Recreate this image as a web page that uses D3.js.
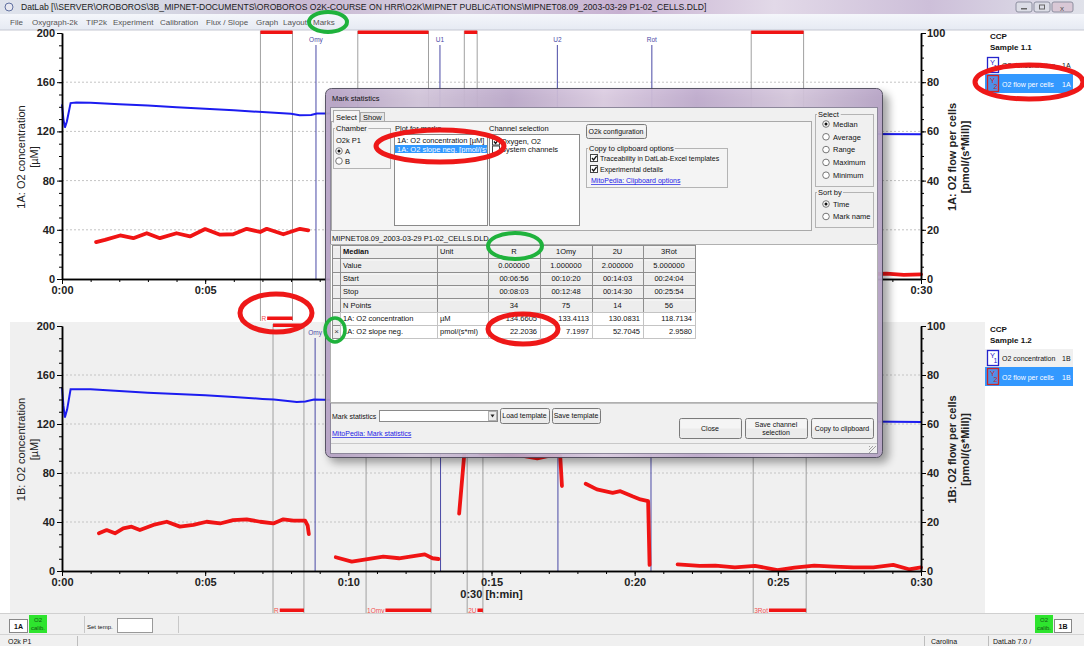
<!DOCTYPE html>
<html>
<head>
<meta charset="utf-8">
<style>
  body { margin: 0; background: #fff; }
  svg { display: block; }
  svg text { font-family: "Liberation Sans", Arial, sans-serif; }
</style>
</head>
<body>
<div id="graphic"></div>
<script src="https://d3js.org/d3.v7.min.js" charset="utf-8"></script>
<script>
// ---- values ----
var timeTicks = [0, 5, 10, 15, 20, 25, 30];      // h:min, in minutes
var concTicks = [0, 40, 80, 120, 160, 200];      // left axis, µM
var fluxTicks = [0, 20, 40, 60, 80, 100];        // right axis, pmol/(s*Mill)
var gridConc = [40, 80, 120, 160];

// chamber A: O2 concentration [min, µM]
var concA = [[0,142],[0.05,130],[0.1,123],[0.17,128],[0.3,143],[0.5,143.5],[1,143.2],[2,142],[3,141],
  [4,139.7],[5,138.5],[6,137.2],[7,135.7],[8,134.4],[8.3,133.2],[8.7,133.3],[8.9,134.6],[9.5,134.6],
  [10.5,134],[12,133.2],[13.2,132.6],[14,130.5],[15,129],[16,127.5],[17.3,125.5],[18,124.2],[19,122.8],
  [20.6,121],[22,120.2],[24,119],[25,118.6],[26,118.3],[28,117.9],[30,117.6]];
// chamber A: O2 flow per cells [min, pmol/(s*Mill)], one array per segment
var fluxA = [
  [[1.19,15.0],[1.5,15.9],[2.03,17.7],[2.49,16.6],[2.96,18.6],[3.42,16.6],[4.0,18.6],[4.47,17.3],[5.0,20.3],
   [5.52,18.0],[5.98,18.2],[6.45,20.4],[6.92,19.1],[7.15,20.4],[7.73,18.2],[8.31,20.4],[8.6,19.8]],
  [[9.6,7.5],[10.2,6.0],[10.8,6.8],[11.4,6.2],[12,6.9],[12.6,6.4],[13.1,6.1]],
  [[13.9,24],[14.05,45],[14.2,49],[14.5,47.5],[15.5,47],[16.5,46.5],[17.4,46],[17.45,36]],
  [[18.3,36],[19,33.5],[19.5,32.5],[20.2,30],[20.5,29.5],[20.55,3]],
  [[21.5,3.2],[22.3,2.6],[23,2.9],[24,2.3],[25,2.7],[26,2.2],[27,2.5],[28.2,2.0],[28.8,2.2],[29.4,1.7],[30,1.9]]
];
// chamber B
var concB = [[0,150],[0.05,135],[0.1,125.3],[0.18,132],[0.3,148.4],[1,148.3],[2,147],[3,145.5],[4,144.5],
  [5,143.5],[6,142],[7,140.5],[7.4,140],[8.2,138],[8.5,138.3],[8.8,140],[9.5,139.5],[10.5,139],[12,138],
  [13.2,137.5],[14,135],[15,133.5],[17.3,130],[19,128],[20.6,126],[22,125],[24,123.5],[26,122.6],[28,122],[30,121.6]];
var fluxB = [
  [[1.29,15.4],[1.56,16.7],[1.85,15.4],[2.14,17.4],[2.43,18.1],[2.72,16.7],[3.19,18.8],[3.66,20.1],[4.12,18.1],
   [4.59,18.8],[5.05,20.1],[5.52,19.4],[5.98,20.8],[6.45,21.1],[6.92,20.1],[7.38,19.4],[7.73,21.1],[8.08,20.6],
   [8.49,20.6],[8.58,18.5],[8.62,15.1]],
  [[9.56,5.6],[10.12,3.8],[10.67,4.8],[11.22,5.9],[11.77,5.2],[12.33,6.2],[12.67,6.8],[12.94,5.2],[13.15,4.9]],
  [[13.87,23.4],[14.05,47.7],[14.15,55],[14.3,52],[14.6,48],[15.2,47.5],[16,47.2],[16.6,46],[17,47],[17.4,47],[17.46,34.7]],
  [[18.29,35.6],[18.68,33.3],[19.23,31.9],[19.5,32.6],[19.92,30.5],[20.2,29.2],[20.47,28.5],[20.52,2.5]],
  [[21.5,2.7],[22.27,2.1],[22.82,2.2],[23.5,1.5],[24.2,2.1],[24.99,0.4],[25.58,1.4],[26.27,2.2],[26.96,1.8],
   [27.65,1.5],[28.34,1.5],[29.03,2.5],[29.58,0.7],[30,1.5]]
];
// marks [name, start, stop] and events [name, time] in minutes
var marksA = [["R",6.93,8.05],["1Omy",10.33,12.8],["2U",14.05,14.5],["3Rot",24.07,25.9]];
var marksB = [["R",7.37,8.45],["1Omy",10.62,12.89],["2U",14.15,14.7],["3Rot",24.14,25.99]];
var eventsA = [["Omy",8.87],["U1",13.2],["U2",17.3],["Rot",20.6]];
var eventsB = [["Omy",8.84],["U1",13.22],["U2",17.32],["Rot",20.57]];

// mark statistics table
var tableCols = ["R", "1Omy", "2U", "3Rot"];
var markValue = ["0.000000", "1.000000", "2.000000", "5.000000"];
var markStart = ["00:06:56", "00:10:20", "00:14:03", "00:24:04"];
var markStop = ["00:08:03", "00:12:48", "00:14:30", "00:25:54"];
var markN = [34, 75, 14, 56];
var concMedian = [134.6605, 133.4113, 130.0831, 118.7134];
var slopeMedian = [22.2036, 7.1997, 52.7045, 2.9580];

var menuItems = [["File",10],["Oxygraph-2k",32],["TIP2k",86],["Experiment",113],["Calibration",160],
  ["Flux / Slope",206],["Graph",256],["Layout",283],["Marks",313]];

// ---- svg ----
var W = 1084, H = 646;
var svg = d3.select("#graphic").append("svg").attr("width", W).attr("height", H);
var defs = svg.append("defs");

function grad(id, stops, vertical) {
  var lg = defs.append("linearGradient").attr("id", id)
    .attr("x1", 0).attr("y1", 0).attr("x2", vertical ? 0 : 1).attr("y2", vertical ? 1 : 0);
  stops.forEach(function (s, i) {
    lg.append("stop").attr("offset", (i / (stops.length - 1) * 100) + "%").attr("stop-color", s);
  });
}
grad("titleGrad", ["#dfe3ec", "#d6d9e4", "#c9b9d3", "#d9d2e2", "#c7b1d1", "#e2d9e8", "#cdbfd9", "#e0e2ea"]);
grad("menuGrad", ["#f4f6fb", "#e6eaf3"], true);
grad("glassGrad", ["#b7a3c6", "#d5c8dd", "#bfaccd", "#decfe4", "#c2aed0", "#d8cadf", "#b9a6c8"]);
defs.append("filter").attr("id", "shadow").attr("x", "-10%").attr("y", "-10%").attr("width", "120%").attr("height", "120%")
  .append("feGaussianBlur").attr("stdDeviation", 4);

function txt(g, x, y, s, o) {
  o = o || {};
  return g.append("text").attr("x", x).attr("y", y).text(s)
    .attr("font-size", o.size || 7.5)
    .attr("font-weight", o.bold ? "bold" : null)
    .attr("fill", o.fill || "#111")
    .attr("text-anchor", o.anchor || "start")
    .attr("text-decoration", o.under ? "underline" : null);
}
function box(g, x, y, w, h, fill, stroke, sw) {
  return g.append("rect").attr("x", x).attr("y", y).attr("width", w).attr("height", h)
    .attr("fill", fill || "none").attr("stroke", stroke || "none").attr("stroke-width", sw || 1);
}
function button(g, x, y, w, h, lines) {
  box(g, x + 0.5, y + 0.5, w, h, "#ebebeb", "#7a7a7a").attr("rx", 2);
  box(g, x + 1.5, y + 1.5, w - 2, h / 2 - 1, "#f5f5f5");
  var n = lines.length;
  lines.forEach(function (s, i) {
    txt(g, x + w / 2, y + h / 2 + 2.5 + (i - (n - 1) / 2) * 8, s, { anchor: "middle", size: 7 });
  });
}
function checkbox(g, x, y, on) {
  box(g, x + 0.5, y + 0.5, 7, 7, "#fff", "#444");
  if (on) g.append("path").attr("d", "M" + (x + 2) + "," + (y + 4) + " l1.6,2 l3,-4.2")
    .attr("fill", "none").attr("stroke", "#111").attr("stroke-width", 1.3);
}
function radio(g, x, y, on) {
  g.append("circle").attr("cx", x).attr("cy", y).attr("r", 3.3).attr("fill", "#fff").attr("stroke", "#777");
  if (on) g.append("circle").attr("cx", x).attr("cy", y).attr("r", 1.5).attr("fill", "#111");
}
function groupbox(g, x, y, w, h, label) {
  box(g, x + 0.5, y + 0.5, w, h, "none", "#b4b4b4");
  var t = txt(g, x + 3, y + 3, label, { size: 7.5 });
  var bb = t.node().getBBox();
  g.insert("rect", function () { return t.node(); }).attr("x", bb.x - 1).attr("y", bb.y)
    .attr("width", bb.width + 2).attr("height", bb.height).attr("fill", "#f0f0f0");
}

// ---- window chrome ----
box(svg, 0, 0, W, 14, "url(#titleGrad)");
svg.append("circle").attr("cx", 9).attr("cy", 7).attr("r", 4).attr("fill", "#e8e8f0").attr("stroke", "#6070a0");
txt(svg, 21, 10, "DatLab [\\\\SERVER\\OROBOROS\\3B_MIPNET-DOCUMENTS\\OROBOROS O2K-COURSE ON HRR\\O2K\\MIPNET PUBLICATIONS\\MIPNET08.09_2003-03-29 P1-02_CELLS.DLD]", { size: 8.6, fill: "#1a1a1a" });
[[1016, 16], [1034, 16], [1052, 21]].forEach(function (b, i) {
  box(svg, b[0], 2, b[1], 10, i == 2 ? "#d9c8d6" : "#dcdde6", "#8d8fa0").attr("rx", 2);
});
box(svg, 1021, 8, 6, 1.5, "#666");
box(svg, 1039.5, 5, 5, 4, "none", "#666");
txt(svg, 1062, 10.5, "x", { size: 8, fill: "#555", anchor: "middle" });
box(svg, 0, 14, W, 16, "url(#menuGrad)");
svg.append("line").attr("x1", 0).attr("x2", W).attr("y1", 30).attr("y2", 30).attr("stroke", "#c5c8d2");
menuItems.forEach(function (m) { txt(svg, m[1], 24.5, m[0], { size: 8, fill: "#555" }); });

// ---- panels ----
box(svg, 10, 322, 975, 291, "#f0f0f0");
box(svg, 985, 322, 88, 291, "#fff");

var x = d3.scaleLinear().domain([0, 30]).range([62, 921]);
var fmtTime = function (d) { return "0:" + (d < 10 ? "0" + d : d); };
var panels = [];

function drawPanel(p) {
  var g = svg.append("g");
  panels.push(g);
  var yL = d3.scaleLinear().domain([0, 200]).range([p.y0, p.y200]);
  var yR = d3.scaleLinear().domain([0, 100]).range([p.y0, p.y200]);

  gridConc.forEach(function (v) {
    g.append("line").attr("x1", x(0)).attr("x2", x(30)).attr("y1", yL(v)).attr("y2", yL(v))
      .attr("stroke", "#c4c4c4").attr("stroke-dasharray", "2,2");
  });
  // mark borders
  p.marks.forEach(function (m) {
    [m[1], m[2]].forEach(function (t) {
      g.append("line").attr("x1", x(t)).attr("x2", x(t)).attr("y1", p.y200 - 2).attr("y2", p.barY + 3)
        .attr("stroke", "#a0a0a0");
    });
  });
  // events
  p.events.forEach(function (e) {
    g.append("line").attr("x1", x(e[1])).attr("x2", x(e[1])).attr("y1", p.y200 + 12).attr("y2", p.y0)
      .attr("stroke", "#4a4aa6");
    txt(g, x(e[1]), p.y200 + 9, e[0], { size: 6.5, fill: "#4a4aa6", anchor: "middle" });
  });

  var lineL = d3.line().x(function (d) { return x(d[0]); }).y(function (d) { return yL(d[1]); });
  var lineR = d3.line().x(function (d) { return x(d[0]); }).y(function (d) { return yR(d[1]); });
  g.append("path").attr("d", lineL(p.conc)).attr("fill", "none").attr("stroke", "#1c1cf0").attr("stroke-width", 2);
  p.flux.forEach(function (seg) {
    g.append("path").attr("d", lineR(seg)).attr("fill", "none").attr("stroke", "#f01414")
      .attr("stroke-width", 3.8).attr("stroke-linejoin", "round").attr("stroke-linecap", "round");
  });

  function styleAxis(a) {
    a.attr("font-size", 11).attr("font-weight", "bold").attr("font-family", "Liberation Sans, Arial, sans-serif");
    a.selectAll("text").attr("fill", "#222");
  }
  g.append("g").attr("transform", "translate(" + x(0) + ",0)")
    .call(d3.axisLeft(yL).tickValues(d3.range(0, 201, 10)).tickSize(3).tickSizeOuter(0).tickFormat(""));
  styleAxis(g.append("g").attr("transform", "translate(" + x(0) + ",0)")
    .call(d3.axisLeft(yL).tickValues(concTicks).tickSize(5).tickSizeOuter(0).tickPadding(2)));
  g.append("g").attr("transform", "translate(" + x(30) + ",0)")
    .call(d3.axisRight(yR).tickValues(d3.range(0, 101, 5)).tickSize(3).tickSizeOuter(0).tickFormat(""));
  styleAxis(g.append("g").attr("transform", "translate(" + x(30) + ",0)")
    .call(d3.axisRight(yR).tickValues(fluxTicks).tickSize(5).tickSizeOuter(0).tickPadding(1)));
  g.append("g").attr("transform", "translate(0," + p.y0 + ")")
    .call(d3.axisBottom(x).tickValues(d3.range(0, 31, 1)).tickSize(3).tickSizeOuter(0).tickFormat(""));
  styleAxis(g.append("g").attr("transform", "translate(0," + p.y0 + ")")
    .call(d3.axisBottom(x).tickValues(timeTicks).tickSize(5).tickSizeOuter(0).tickPadding(2).tickFormat(fmtTime)));
  g.selectAll(".domain").attr("stroke-width", 1.5);

  txt(g, x(15), p.y0 + 27, "0:30 [h:min]", { size: 11, bold: true, anchor: "middle", fill: "#222" });

  var cy = (p.y0 + p.y200) / 2 + 1;
  [[21, p.chamber + ": O2 concentration", false], [34, "[µM]", false],
   [952, p.chamber + ": O2 flow per cells", true], [965, "[pmol/(s*Mill)]", true]].forEach(function (l) {
    g.append("text").attr("transform", "translate(" + l[0] + "," + cy + ") rotate(-90)")
      .attr("text-anchor", "middle").attr("dy", "0.35em").attr("font-size", 11)
      .attr("font-weight", l[2] ? "bold" : null).attr("fill", "#222").text(l[1]);
  });

  // mark bars: full span at the top, labelled bar at the bottom
  p.marks.forEach(function (m) {
    box(g, x(m[1]), p.y200 - 2.5, x(m[2]) - x(m[1]), 3.5, "#f01414");
    var t = txt(g, x(m[1]) + 1, p.barY + 2.5, m[0], { size: 6.5, fill: "#f05050" });
    var w = t.node().getComputedTextLength();
    box(g, x(m[1]) + w + 2, p.barY - 1.5, x(m[2]) - x(m[1]) - w - 2, 3.5, "#f01414");
  });

  // legend
  txt(g, 990, p.legY, "CCP", { size: 8, bold: true });
  txt(g, 990, p.legY + 11, p.sample, { size: 8, bold: true });
  var r1 = p.legY + 17, r2 = p.legY + 35;
  box(g, 985, r1, 88, 18, p.rowFill);
  box(g, 985, r2, 88, 19, "#3399ff");
  box(g, 987.5, r1 + 1.5, 11, 15, "#fff", "#2424cc", 1.3);
  txt(g, 990, r1 + 9, "Y", { size: 7.5, fill: "#2424cc" });
  txt(g, 993.5, r1 + 14, "1", { size: 7, fill: "#2424cc" });
  box(g, 987.5, r2 + 1.5, 11, 16, "#4f8fe8", "#cc2424", 1.3);
  txt(g, 990, r2 + 9, "Y", { size: 7.5, fill: "#cc2424" });
  txt(g, 993.5, r2 + 15, "2", { size: 7, fill: "#cc2424" });
  txt(g, 1002, r1 + 12, "O2 concentration", { size: 7 });
  txt(g, 1062, r1 + 12, p.chamber, { size: 7 });
  txt(g, 1002, r2 + 12.5, "O2 flow per cells", { size: 7, fill: "#fff" });
  txt(g, 1062, r2 + 12.5, p.chamber, { size: 7, fill: "#fff" });
}

drawPanel({ y200: 33, y0: 279, barY: 318, chamber: "1A", sample: "Sample 1.1", conc: concA, flux: fluxA,
  marks: marksA, events: eventsA, legY: 39, rowFill: "#fff" });
drawPanel({ y200: 326, y0: 571, barY: 610, chamber: "1B", sample: "Sample 1.2", conc: concB, flux: fluxB,
  marks: marksB, events: eventsB, legY: 332, rowFill: "#f0f0f0" });

// texts that the dialog covers completely are not drawn
var dlgBox = { x0: 325, y0: 88, x1: 883, y1: 458 };
panels.forEach(function (g) {
  g.selectAll("text").each(function () {
    var r = this.getBoundingClientRect();
    if (r.left >= dlgBox.x0 && r.right <= dlgBox.x1 && r.top >= dlgBox.y0 && r.bottom <= dlgBox.y1) d3.select(this).remove();
  });
});

// ---- toolbar and status bar ----
box(svg, 0, 613, W, 21, "#f0f0f0");
svg.append("line").attr("x1", 0).attr("x2", W).attr("y1", 613.5).attr("y2", 613.5).attr("stroke", "#d0d0d0");
box(svg, 9.5, 619.5, 18, 13, "#fff", "#888");
txt(svg, 18.5, 629, "1A", { size: 7, bold: true, anchor: "middle" });
box(svg, 29, 615, 18, 18, "#2ee42e");
txt(svg, 38, 622, "O2", { size: 6, anchor: "middle", fill: "#145a14" });
txt(svg, 38, 630, "calib.", { size: 6, anchor: "middle", fill: "#145a14" });
svg.append("line").attr("x1", 84.5).attr("x2", 84.5).attr("y1", 616).attr("y2", 633).attr("stroke", "#c8c8c8");
txt(svg, 87, 629, "Set temp.", { size: 6 });
box(svg, 117.5, 618.5, 35, 14, "#fff", "#999");
svg.append("line").attr("x1", 178.5).attr("x2", 178.5).attr("y1", 616).attr("y2", 633).attr("stroke", "#c8c8c8");
box(svg, 1035, 615, 18, 18, "#2ee42e");
txt(svg, 1044, 622, "O2", { size: 6, anchor: "middle", fill: "#145a14" });
txt(svg, 1044, 630, "calib.", { size: 6, anchor: "middle", fill: "#145a14" });
box(svg, 1054.5, 619.5, 17, 13, "#fff", "#888");
txt(svg, 1063, 629, "1B", { size: 7, bold: true, anchor: "middle" });
box(svg, 0, 634, W, 12, "#f0f0f0");
svg.append("line").attr("x1", 0).attr("x2", W).attr("y1", 634.5).attr("y2", 634.5).attr("stroke", "#d4d4d4");
[77.5, 924.5, 988.5].forEach(function (sx) {
  svg.append("line").attr("x1", sx).attr("x2", sx).attr("y1", 636).attr("y2", 646).attr("stroke", "#bdbdbd");
});
txt(svg, 8, 643.5, "O2k P1", { size: 7 });
txt(svg, 931, 643.5, "Carolina", { size: 7 });
txt(svg, 993, 643.5, "DatLab 7.0 /", { size: 7 });

// ---- Mark statistics dialog ----
var dlg = svg.append("g");
box(dlg, 329, 93, 560, 370, "#000").attr("opacity", 0.35).attr("rx", 8).attr("filter", "url(#shadow)");
box(dlg, 325.5, 88.5, 557, 369, "url(#glassGrad)", "#4e4a5c").attr("rx", 6).attr("opacity", 0.93);
txt(dlg, 332, 101, "Mark statistics", { size: 7.5 });
box(dlg, 330.5, 107.5, 547, 346, "#f0f0f0", "#8d879b");

// tabs and tab page
box(dlg, 331.5, 121.5, 480, 109, "#f4f4f4", "#a9a9a9");
box(dlg, 333.5, 110.5, 26, 11.5, "#f4f4f4", "#a9a9a9");
box(dlg, 334, 121, 25, 2, "#f4f4f4");
txt(dlg, 336, 119.5, "Select", { size: 7.5 });
box(dlg, 360.5, 112.5, 24, 9, "#e6e6e6", "#a9a9a9");
txt(dlg, 363, 120, "Show", { size: 7.5 });

groupbox(dlg, 333, 128, 57, 40, "Chamber");
txt(dlg, 336, 143, "O2k P1", { size: 7.5 });
radio(dlg, 339, 151, true); txt(dlg, 345, 154, "A", { size: 7.5 });
radio(dlg, 339, 161, false); txt(dlg, 345, 164, "B", { size: 7.5 });

txt(dlg, 395, 131, "Plot for marks", { size: 7.5 });
box(dlg, 394.5, 134.5, 93, 91, "#fff", "#8a8a8a");
defs.append("clipPath").attr("id", "listClip").append("rect").attr("x", 395).attr("y", 135).attr("width", 92).attr("height", 90);
var lst = dlg.append("g").attr("clip-path", "url(#listClip)");
txt(lst, 397, 143, "1A: O2 concentration [µM]", { size: 7.5 });
box(lst, 395, 145, 92, 8, "#3399ff");
txt(lst, 397, 151.5, "1A: O2 slope neg. [pmol/(s*ml)]", { size: 7.5, fill: "#fff" });

txt(dlg, 489, 131, "Channel selection", { size: 7.5 });
box(dlg, 489.5, 134.5, 90, 91, "#fff", "#8a8a8a");
checkbox(dlg, 492, 137.5, true); txt(dlg, 501, 144, "Oxygen, O2", { size: 7.5 });
checkbox(dlg, 492, 145.5, false); txt(dlg, 501, 152, "System channels", { size: 7.5 });

button(dlg, 586, 124, 60, 14, ["O2k configuration"]);
groupbox(dlg, 586, 148, 141, 39, "Copy to clipboard options");
checkbox(dlg, 590, 154, true); txt(dlg, 600, 160.5, "Traceability in DatLab-Excel templates", { size: 7 });
checkbox(dlg, 590, 165, true); txt(dlg, 600, 171.5, "Experimental details", { size: 7 });
txt(dlg, 591, 183, "MitoPedia: Clipboard options", { size: 7, fill: "#1a1ae6", under: true });

groupbox(dlg, 815, 114, 58, 72, "Select");
[["Median", true], ["Average"], ["Range"], ["Maximum"], ["Minimum"]].forEach(function (r, i) {
  radio(dlg, 826, 124 + i * 12.8, !!r[1]);
  txt(dlg, 833, 126.8 + i * 12.8, r[0], { size: 7.5 });
});
groupbox(dlg, 815, 192, 58, 35, "Sort by");
radio(dlg, 826, 204, true); txt(dlg, 833, 206.8, "Time", { size: 7.5 });
radio(dlg, 826, 216.5, false); txt(dlg, 833, 219.3, "Mark name", { size: 7.5 });

// file name and table
txt(dlg, 332, 241, "MIPNET08.09_2003-03-29 P1-02_CELLS.DLD", { size: 7.5 });
box(dlg, 330.5, 244.5, 547, 158, "#fff", "#b0b0b0");
var colX = [332, 340, 437, 488, 540, 592, 643, 695];
var rowY = [245, 258, 272, 285, 298, 312, 325, 338];
var f4 = d3.format(".4f");
var rows = [
  ["", "Median", "Unit"].concat(tableCols),
  ["", "Value", ""].concat(markValue),
  ["", "Start", ""].concat(markStart),
  ["", "Stop", ""].concat(markStop),
  ["", "N Points", ""].concat(markN),
  ["", "1A: O2 concentration", "µM"].concat(concMedian.map(f4)),
  ["×", "1A: O2 slope neg.", "pmol/(s*ml)"].concat(slopeMedian.map(f4))
];
rows.forEach(function (row, ri) {
  row.forEach(function (cell, ci) {
    var cx0 = colX[ci], cw = colX[ci + 1] - cx0, cy0 = rowY[ri], ch = rowY[ri + 1] - cy0;
    var dataRow = ri >= 5 && ci > 0;
    box(dlg, cx0 + 0.5, cy0 + 0.5, cw, ch, dataRow ? "#fff" : "#ededed", dataRow ? "#c4c4c4" : "#8e8e8e");
    if (!dataRow) box(dlg, cx0 + 1.5, cy0 + 1.5, cw - 2, 1, "#fafafa");
    var ty = cy0 + ch / 2 + 2.7;
    if (ci == 0) txt(dlg, cx0 + 4.5, ty, cell, { size: 8, anchor: "middle", fill: "#444" });
    else if (ci < 3) txt(dlg, cx0 + 3, ty, cell, { size: 7.5, bold: ri == 0 && ci == 1 });
    else if (ri < 5) txt(dlg, cx0 + cw / 2, ty, cell, { size: 7.5, anchor: "middle" });
    else txt(dlg, cx0 + cw - 3, ty, cell, { size: 7.5, anchor: "end" });
  });
});

// lower controls
dlg.append("line").attr("x1", 331).attr("x2", 877).attr("y1", 403.5).attr("y2", 403.5).attr("stroke", "#c0c0c0");
txt(dlg, 332, 419, "Mark statistics", { size: 7 });
box(dlg, 379.5, 410.5, 118, 11, "#fff", "#8a8a8a");
box(dlg, 488.5, 411.5, 8, 9, "#ececec", "#b0b0b0");
dlg.append("path").attr("d", "M490.5,414.5 h4 l-2,3 z").attr("fill", "#222");
button(dlg, 500, 408, 49, 15, ["Load template"]);
button(dlg, 552, 408, 48, 15, ["Save template"]);
txt(dlg, 332, 436, "MitoPedia: Mark statistics", { size: 7, fill: "#1a1ae6", under: true });
button(dlg, 679, 418, 62, 20, ["Close"]);
button(dlg, 745, 418, 62, 20, ["Save channel", "selection"]);
button(dlg, 811, 418, 62, 20, ["Copy to clipboard"]);
dlg.append("line").attr("x1", 331).attr("x2", 877).attr("y1", 443.5).attr("y2", 443.5).attr("stroke", "#c8c8c8");
[0, 3, 6].forEach(function (k) {
  dlg.append("line").attr("x1", 876 - k).attr("y1", 446).attr("x2", 869).attr("y2", 453 - k).attr("stroke", "#a0a0a0");
});

// ---- annotation ellipses ----
var rings = [
  [328, 22, 19, 10, "#1fb23c", 4], [515, 246, 27, 13, "#1fb23c", 4], [335, 330, 10, 12, "#1fb23c", 3.5],
  [440, 146, 64, 16, "#ee1818", 5], [523, 329, 35, 15, "#ee1818", 5], [276, 313, 36, 19, "#ee1818", 5],
  [1029, 82, 54, 17, "#ee1818", 5]
];
svg.selectAll(".ring").data(rings).enter().append("ellipse").attr("class", "ring")
  .attr("cx", function (d) { return d[0]; }).attr("cy", function (d) { return d[1]; })
  .attr("rx", function (d) { return d[2]; }).attr("ry", function (d) { return d[3]; })
  .attr("fill", "none").attr("stroke", function (d) { return d[4]; })
  .attr("stroke-width", function (d) { return d[5]; });
</script>
</body>
</html>
